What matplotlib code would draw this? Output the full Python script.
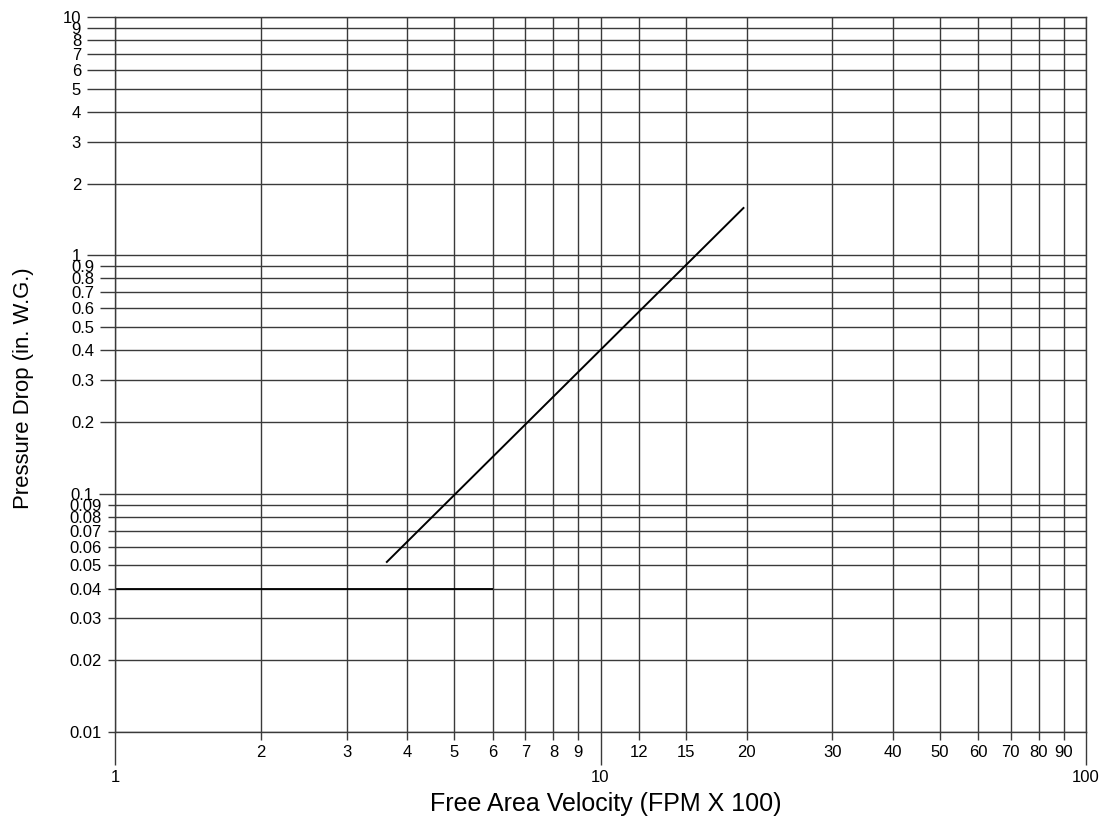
import numpy as np
import matplotlib
matplotlib.use('Agg')
import matplotlib.pyplot as plt

plt.rcParams['font.family'] = ['Liberation Sans', 'DejaVu Sans']

# chart data
velocity = [3.63, 19.7]          # FPM x 100
pressure = [0.0517, 1.58]        # in. W.G.
ref_x = [1, 6]                   # darker reference segment at 0.04
ref_y = [0.04, 0.04]

x_major = [1, 10, 100]
x_minor = [2, 3, 4, 5, 6, 7, 8, 9, 12, 15, 20, 30, 40, 50, 60, 70, 80, 90]
y_ticks = [0.01, 0.02, 0.03, 0.04, 0.05, 0.06, 0.07, 0.08, 0.09,
           0.1, 0.2, 0.3, 0.4, 0.5, 0.6, 0.7, 0.8, 0.9,
           1, 2, 3, 4, 5, 6, 7, 8, 9, 10]
y_labels = ['0.01', '0.02', '0.03', '0.04', '0.05', '0.06', '0.07', '0.08', '0.09',
            '0.1', '0.2', '0.3', '0.4', '0.5', '0.6', '0.7', '0.8', '0.9',
            '1', '2', '3', '4', '5', '6', '7', '8', '9', '10']

grid_col = '#3a3a3a'
px = 0.72  # points per pixel at dpi 100

fig = plt.figure(figsize=(11.04, 8.24), dpi=100)
ax = fig.add_axes([115 / 1104, 1 - 732 / 824, (1086 - 115) / 1104, (732 - 17) / 824])
ax.set_xscale('log')
ax.set_yscale('log')
ax.set_xlim(1, 100)
ax.set_ylim(0.01, 10)

ax.plot(ref_x, ref_y, color='black', lw=1.3, solid_capstyle='butt')
ax.plot(velocity, pressure, color='black', lw=1.4)

ax.set_xticks(x_major, labels=[str(v) for v in x_major])
ax.set_xticks(x_minor, labels=[str(v) for v in x_minor], minor=True)
ax.set_yticks(y_ticks, labels=y_labels)
ax.yaxis.set_minor_locator(matplotlib.ticker.NullLocator())

ax.grid(True, which='both', axis='x', color=grid_col, lw=1.0)
ax.grid(True, which='major', axis='y', color=grid_col, lw=1.0)
ax.set_axisbelow(True)

for s in ax.spines.values():
    s.set_color(grid_col)
    s.set_linewidth(1.0)

ax.tick_params(axis='x', which='major', direction='out', length=33 * px, width=1.0,
               color=grid_col, pad=3.5, labelsize=12)
ax.tick_params(axis='x', which='minor', direction='out', length=8 * px, width=1.0,
               color=grid_col, pad=3.5, labelsize=12)
ax.tick_params(axis='y', which='major', direction='out', length=0, width=1.0,
               color=grid_col, pad=4.3, labelsize=12)

# y gridlines run out past the left edge, length depends on label width
for tick, val in zip(ax.yaxis.get_major_ticks(), y_ticks):
    if val >= 1:
        L = 28
    elif val >= 0.1 - 1e-9:
        L = 16 if abs(val - 0.1) < 1e-9 else 15
    else:
        L = 7
    tick.set_pad(4.3 + L * px)
    tick.tick1line.set_markersize(L * px)

ax.set_xlabel('Free Area Velocity (FPM X 100)', fontsize=18)
ax.xaxis.set_label_coords(0.5057, -0.0839)
ax.set_ylabel('Pressure Drop (in. W.G.)', fontsize=15.9)
ax.yaxis.set_label_coords(-0.083, 0.481)

fig.savefig('out.png', dpi=100)
